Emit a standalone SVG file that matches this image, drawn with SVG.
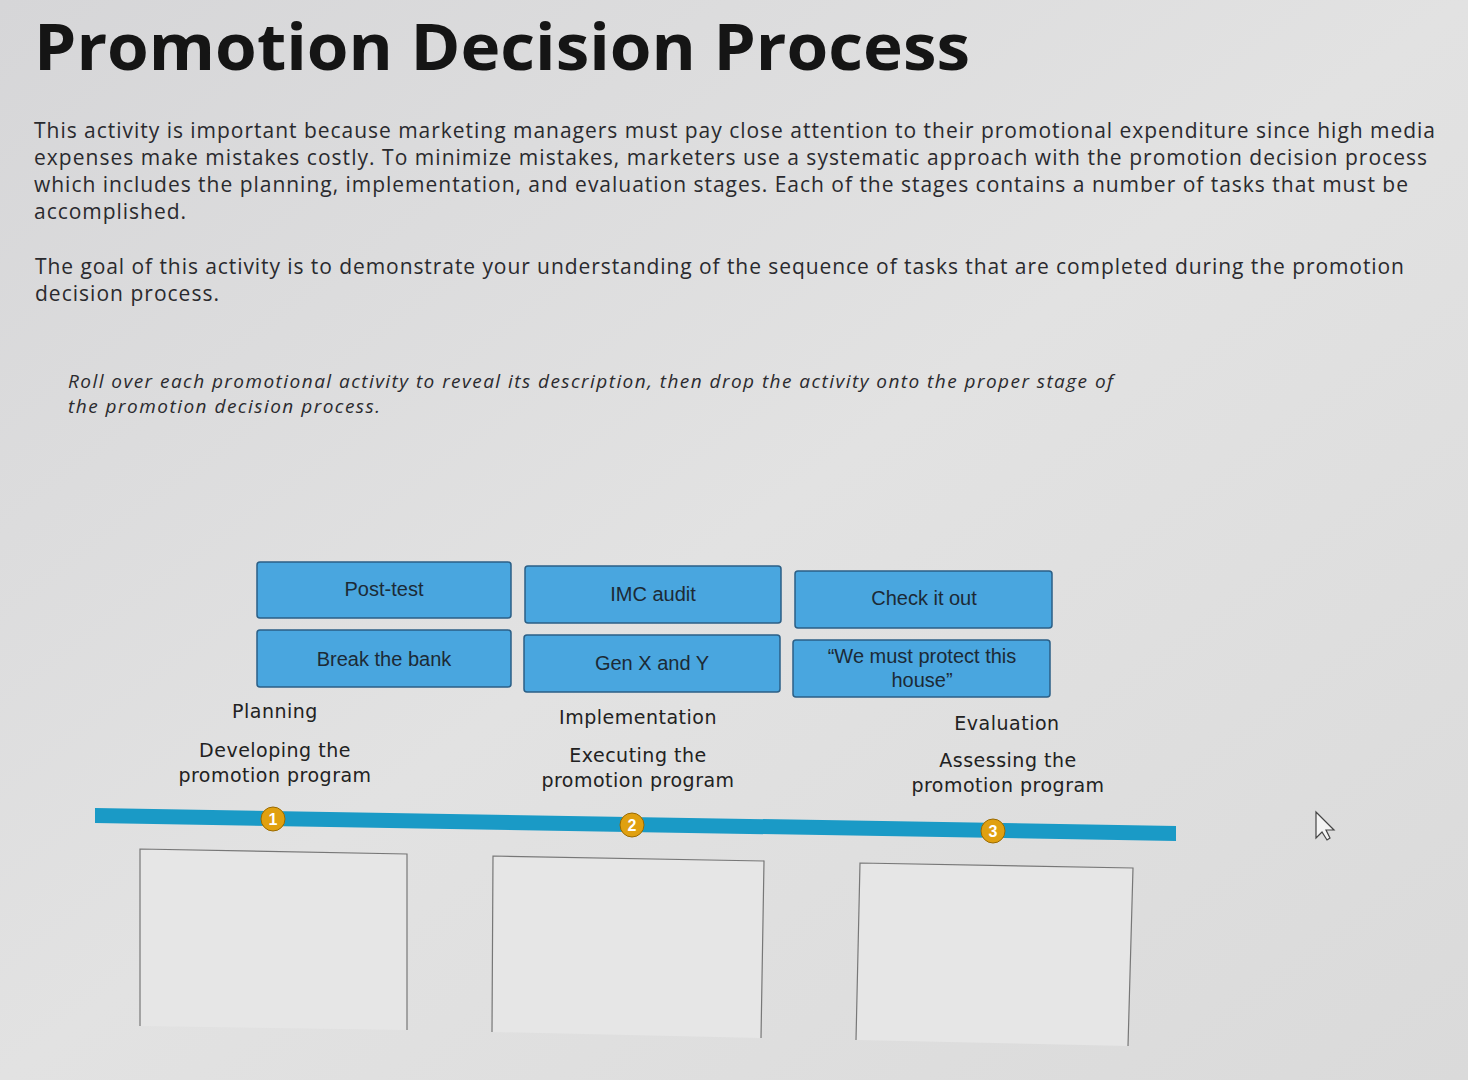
<svg xmlns="http://www.w3.org/2000/svg" width="1468" height="1080" viewBox="0 0 1468 1080">
<style>
.p{font-family:"Open Sans","Liberation Sans",sans-serif;font-size:21px;fill:#2a2a2e}
.i{font-family:"Open Sans","Liberation Sans",sans-serif;font-size:19px;font-style:italic;fill:#2a2a2e}
.b rect{fill:#49a6df;stroke:#2b5f86;stroke-width:1.5}
.b text{font-family:"Liberation Sans",Arial,sans-serif;font-size:20px;fill:#1c2a36;text-anchor:middle}
.s{font-family:"DejaVu Sans","Liberation Sans",sans-serif;font-size:19px;fill:#222;text-anchor:middle;letter-spacing:0.5px}
.n circle{fill:#e0a010;stroke:#9a6a00}
.n text{font-family:"Liberation Sans",Arial,sans-serif;font-size:16px;font-weight:bold;fill:#fff;text-anchor:middle}
.box{fill:#e6e6e6;stroke:#777;stroke-width:1.2}
</style>
<defs><linearGradient id="bg" x1="0" y1="0" x2="1" y2="1"><stop offset="0" stop-color="#d6d6d8"/><stop offset="0.5" stop-color="#e2e2e2"/><stop offset="1" stop-color="#dadada"/></linearGradient></defs>
<rect width="1468" height="1080" fill="url(#bg)"/>
<text x="34" y="70" font-family="'Open Sans','Liberation Sans',sans-serif" font-size="64" font-weight="bold" fill="#151515" textLength="936" lengthAdjust="spacingAndGlyphs">Promotion Decision Process</text>
<g class="p">
<text x="34" y="138" textLength="1401">This activity is important because marketing managers must pay close attention to their promotional expenditure since high media</text>
<text x="34" y="165" textLength="1393">expenses make mistakes costly. To minimize mistakes, marketers use a systematic approach with the promotion decision process</text>
<text x="34" y="192" textLength="1374">which includes the planning, implementation, and evaluation stages. Each of the stages contains a number of tasks that must be</text>
<text x="34" y="219" textLength="152">accomplished.</text>
<text x="35" y="274" textLength="1369">The goal of this activity is to demonstrate your understanding of the sequence of tasks that are completed during the promotion</text>
<text x="35" y="301" textLength="184">decision process.</text>
</g>
<g class="i">
<text x="68" y="388" textLength="1045">Roll over each promotional activity to reveal its description, then drop the activity onto the proper stage of</text>
<text x="68" y="413" textLength="312">the promotion decision process.</text>
</g>
<g id="nodes">
<g id="b1" class="b"><rect x="257" y="562" width="254" height="56" rx="3"/><text x="384" y="596">Post-test</text></g>
<g id="b2" class="b"><rect x="525" y="566" width="256" height="57" rx="3"/><text x="653" y="601">IMC audit</text></g>
<g id="b3" class="b"><rect x="795" y="571" width="257" height="57" rx="3"/><text x="924" y="605">Check it out</text></g>
<g id="b4" class="b"><rect x="257" y="630" width="254" height="57" rx="3"/><text x="384" y="666">Break the bank</text></g>
<g id="b5" class="b"><rect x="524" y="635" width="256" height="57" rx="3"/><text x="652" y="670">Gen X and Y</text></g>
<g id="b6" class="b"><rect x="793" y="640" width="257" height="57" rx="3"/><text x="922" y="663">“We must protect this</text><text x="922" y="687">house”</text></g>
<g id="s1"><text class="s" x="275" y="718">Planning</text><text class="s" x="275" y="757">Developing the</text><text class="s" x="275" y="782">promotion program</text></g>
<g id="s2"><text class="s" x="638" y="724">Implementation</text><text class="s" x="638" y="762">Executing the</text><text class="s" x="638" y="787">promotion program</text></g>
<g id="s3"><text class="s" x="1007" y="730">Evaluation</text><text class="s" x="1008" y="767">Assessing the</text><text class="s" x="1008" y="792">promotion program</text></g>
<g id="timeline"><polygon points="95,808 1176,826 1176,841 95,823" fill="#1a9ac6"/></g>
<g id="n1" class="n"><circle cx="273" cy="819" r="12"/><text x="273" y="825">1</text></g>
<g id="n2" class="n"><circle cx="632" cy="825" r="12"/><text x="632" y="831">2</text></g>
<g id="n3" class="n"><circle cx="993" cy="831" r="12"/><text x="993" y="837">3</text></g>
<g id="d1"><polyline class="box" points="140,1026 140,849 407,854 407,1030"/></g>
<g id="d2"><polyline class="box" points="492,1032 493,856 764,861 761,1038"/></g>
<g id="d3"><polyline class="box" points="856,1040 860,863 1133,868 1128,1046"/></g>
</g>
<path d="M1316,812 l0,26 l6,-6 l5,8 l3,-2 l-4,-8 l8,0 z" fill="#f4f4f4" stroke="#444" stroke-width="1.2"/>
</svg>
